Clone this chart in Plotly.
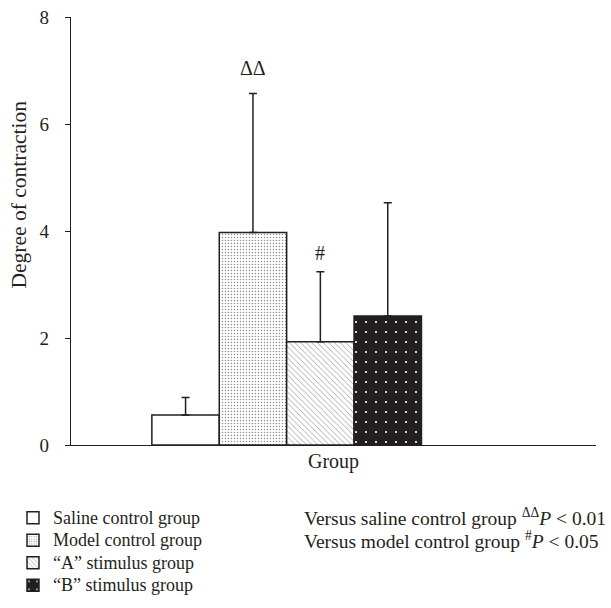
import plotly.graph_objects as go

# ---- data ----
groups = ["Saline control group", "Model control group", "\u201cA\u201d stimulus group", "\u201cB\u201d stimulus group"]
means = [0.56, 3.97, 1.93, 2.41]
errors = [0.33, 2.60, 1.31, 2.12]
x_pos = [0, 1, 2, 3]
sig_labels = ["", "\u0394\u0394", "#", ""]
sig_heights = [None, 7.05, 3.59, None]
y_ticks = [0, 2, 4, 6, 8]
y_title = "Degree of contraction"
x_title = "Group"
notes = ["Versus saline control group <sup>\u0394\u0394</sup><i>P</i> < 0.01",
         "Versus model control group <sup>#</sup><i>P</i> < 0.05"]

FONT = "Liberation Serif"
INK = "#231f20"

patterns = [
    dict(shape="", bgcolor="white", fgcolor="white"),
    dict(shape=".", bgcolor="white", fgcolor="#8a8a8a", size=3, solidity=0.18, fillmode="replace"),
    dict(shape="\\", bgcolor="white", fgcolor="#9a9a9a", size=4, solidity=0.2, fillmode="replace"),
    dict(shape=".", bgcolor=INK, fgcolor="white", size=10, solidity=0.035, fillmode="replace"),
]
colors = ["white", "white", "white", INK]

fig = go.Figure()
for i in range(len(groups)):
    fig.add_trace(go.Bar(
        x=[x_pos[i]], y=[means[i]], width=1,
        name='<span style="font-size:18px">' + groups[i] + '</span>',
        marker=dict(color=colors[i], line=dict(color=INK, width=1.5), pattern=patterns[i]),
        error_y=dict(type="data", array=[errors[i]], arrayminus=[0], symmetric=False,
                     thickness=1.5, width=4, color=INK),
    ))

for i in range(len(groups)):
    if sig_labels[i]:
        fig.add_annotation(x=x_pos[i], y=sig_heights[i], text=sig_labels[i], showarrow=False,
                           font=dict(family=FONT, size=20, color=INK), xref="x", yref="y")

for j, t in enumerate(notes):
    fig.add_annotation(x=(302 - 71) / 525, y=(445 - 517 - 22.5 * j) / 428, text=t, showarrow=False,
                       xref="paper", yref="paper", xanchor="left", yanchor="middle",
                       font=dict(family=FONT, size=19.5, color=INK))

# y-axis title (placed above axis centre, as in the reference)
fig.add_annotation(x=(18 - 71) / 525, y=(445 - 194.5) / 428, text=y_title, textangle=-90,
                   showarrow=False, xref="paper", yref="paper", xanchor="center", yanchor="middle",
                   font=dict(family=FONT, size=21.5, color=INK))

fig.update_layout(
    width=611, height=608,
    margin=dict(l=71, r=15, t=17, b=163, autoexpand=False),
    plot_bgcolor="white", paper_bgcolor="white",
    barmode="overlay",
    font=dict(family=FONT, size=15, color=INK),
    showlegend=True,
    legend=dict(x=(13 - 71) / 525, y=(445 - 501.6) / 428, xanchor="left", yanchor="top",
                orientation="v", font=dict(family=FONT, size=15, color=INK), tracegroupgap=0,
                bgcolor="rgba(0,0,0,0)"),
    xaxis=dict(range=[-1.70, 6.09], showticklabels=False, ticks="", showline=True,
               linecolor=INK, linewidth=1.2, showgrid=False, zeroline=False, automargin=False,
               title=dict(text=x_title, font=dict(family=FONT, size=20), standoff=8)),
    yaxis=dict(range=[0, 8], tickvals=y_ticks, ticks="outside", ticklen=5, tickwidth=1.2,
               tickcolor=INK, showline=True, linecolor=INK, linewidth=1.2,
               showgrid=False, zeroline=False, ticklabelstandoff=12, automargin=False,
               tickfont=dict(family=FONT, size=19)),
)

fig.write_html("out.html", config={"displayModeBar": False},
               post_script="document.body.style.margin='0px';")
